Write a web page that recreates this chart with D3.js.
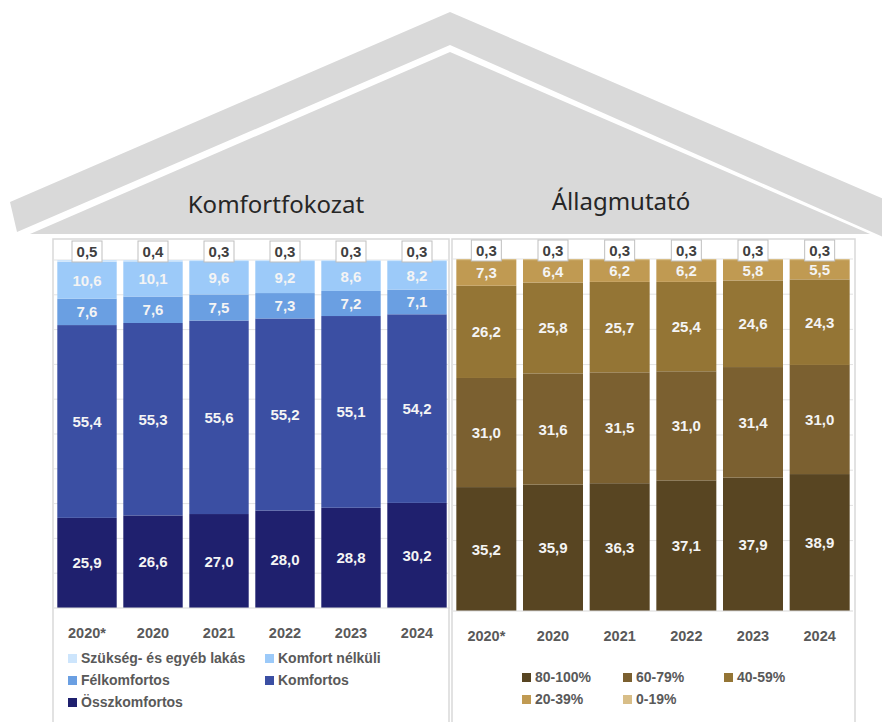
<!DOCTYPE html>
<html>
<head>
<meta charset="utf-8">
<script src="https://cdn.jsdelivr.net/npm/d3@7"></script>
<style>
  body { margin: 0; background: #fff; }
  svg text { font-family: "Liberation Sans", Arial, sans-serif; }
</style>
</head>
<body>
<div id="graphic"></div>
<script>
// Évek
let years = ["2020*", "2020", "2021", "2022", "2023", "2024"];

// Komfortfokozat (%), alulról felfelé
let komfortNames = ["Összkomfortos", "Komfortos", "Félkomfortos", "Komfort nélküli", "Szükség- és egyéb lakás"];
let osszkomfortos = [25.9, 26.6, 27.0, 28.0, 28.8, 30.2];
let komfortos = [55.4, 55.3, 55.6, 55.2, 55.1, 54.2];
let felkomfortos = [7.6, 7.6, 7.5, 7.3, 7.2, 7.1];
let komfortNelkuli = [10.6, 10.1, 9.6, 9.2, 8.6, 8.2];
let szukseg = [0.5, 0.4, 0.3, 0.3, 0.3, 0.3];
let komfortColors = ["#1f206e", "#3b4fa3", "#6a9fe2", "#9ccaf9", "#cde5fc"];

// Állagmutató (%), alulról felfelé
let allagNames = ["80-100%", "60-79%", "40-59%", "20-39%", "0-19%"];
let a80 = [35.2, 35.9, 36.3, 37.1, 37.9, 38.9];
let a60 = [31.0, 31.6, 31.5, 31.0, 31.4, 31.0];
let a40 = [26.2, 25.8, 25.7, 25.4, 24.6, 24.3];
let a20 = [7.3, 6.4, 6.2, 6.2, 5.8, 5.5];
let a0 = [0.3, 0.3, 0.3, 0.3, 0.3, 0.3];
let allagColors = ["#584522", "#7b6030", "#947535", "#c09a52", "#d8be88"];

let fmt = v => d3.format(".1f")(v).replace(".", ",");

let svg = d3.select("#graphic")
  .append("svg")
  .attr("width", 882)
  .attr("height", 722);

// Tető
let roof = svg.append("g");
roof.append("polygon")
  .attr("points", "450,12 900,206 890,240 450,45 17,232 10,202")
  .attr("fill", "#d9d9d9");
roof.append("polygon")
  .attr("points", "450,52 870,234 30,234")
  .attr("fill", "#d9d9d9");

roof.append("text")
  .attr("x", 276).attr("y", 213)
  .attr("text-anchor", "middle")
  .attr("fill", "#262626")
  .style("font-family", "'Noto Sans', sans-serif")
  .style("font-size", "24px")
  .text("Komfortfokozat");
roof.append("text")
  .attr("x", 621).attr("y", 210)
  .attr("text-anchor", "middle")
  .attr("fill", "#262626")
  .style("font-family", "'Noto Sans', sans-serif")
  .style("font-size", "24px")
  .text("Állagmutató");

// Egy panel kirajzolása
function drawPanel(opt) {
  let g = svg.append("g");

  g.append("rect")
    .attr("x", opt.box[0]).attr("y", opt.box[1])
    .attr("width", opt.box[2]).attr("height", opt.box[3])
    .attr("fill", "#fff")
    .attr("stroke", "#d9d9d9")
    .attr("stroke-width", 1.5);

  let x = d3.scaleBand()
    .domain(years)
    .range(opt.xRange)
    .paddingInner(0.1)
    .paddingOuter(0.05);

  let y = d3.scaleLinear()
    .domain([0, 100])
    .range(opt.yRange);

  // Rácsvonalak
  g.append("g")
    .selectAll("line")
    .data(d3.range(10, 101, 10))
    .enter()
    .append("line")
    .attr("x1", opt.xRange[0]).attr("x2", opt.xRange[1])
    .attr("y1", d => y(d)).attr("y2", d => y(d))
    .attr("stroke", "#e3e3e3");

  let rows = years.map((yr, i) => {
    let r = {year: yr};
    opt.series.forEach((s, k) => { r[k] = s[i]; });
    return r;
  });
  let stack = d3.stack().keys(d3.range(opt.series.length))(rows);

  let layers = g.selectAll(".layer")
    .data(stack)
    .enter()
    .append("g")
    .attr("class", "layer")
    .attr("fill", (d, k) => opt.colors[k]);

  layers.selectAll("rect")
    .data(d => d)
    .enter()
    .append("rect")
    .attr("x", d => x(d.data.year))
    .attr("width", x.bandwidth())
    .attr("y", d => y(d[1]))
    .attr("height", d => y(d[0]) - y(d[1]));

  // Értékcímkék (a legfelső réteg kivételével)
  let last = stack.length - 1;
  stack.slice(0, last).forEach(layer => {
    g.append("g")
      .selectAll("text")
      .data(layer)
      .enter()
      .append("text")
      .attr("x", d => x(d.data.year) + x.bandwidth() / 2)
      .attr("y", d => (y(d[0]) + y(d[1])) / 2 + 5.5)
      .attr("text-anchor", "middle")
      .attr("fill", "#f4f4f4")
      .style("font-size", "15px")
      .style("font-weight", "bold")
      .text(d => fmt(d[1] - d[0]));
  });

  // Legfelső érték dobozban
  let tops = g.append("g")
    .selectAll("g")
    .data(stack[last])
    .enter()
    .append("g")
    .attr("transform", d => `translate(${x(d.data.year) + x.bandwidth() / 2}, ${opt.boxY})`);
  tops.append("rect")
    .attr("x", -15).attr("y", 0)
    .attr("width", 30).attr("height", 21)
    .attr("fill", "#fff")
    .attr("stroke", "#bfbfbf");
  tops.append("text")
    .attr("y", 16)
    .attr("text-anchor", "middle")
    .attr("fill", "#404040")
    .style("font-size", "15px")
    .style("font-weight", "bold")
    .text(d => fmt(d[1] - d[0]));

  // X tengely
  g.append("line")
    .attr("x1", opt.xRange[0]).attr("x2", opt.xRange[1])
    .attr("y1", y(0)).attr("y2", y(0))
    .attr("stroke", "#d9d9d9");

  g.append("g")
    .selectAll("text")
    .data(years)
    .enter()
    .append("text")
    .attr("x", d => x(d) + x.bandwidth() / 2)
    .attr("y", opt.axisY)
    .attr("text-anchor", "middle")
    .attr("fill", "#595959")
    .style("font-size", "14.5px")
    .style("font-weight", "bold")
    .text(d => d);

  // Jelmagyarázat
  let leg = g.append("g")
    .selectAll("g")
    .data(opt.names)
    .enter()
    .append("g")
    .attr("transform", (d, i) => `translate(${opt.legend[i][0]}, ${opt.legend[i][1]})`);
  leg.append("rect")
    .attr("x", 0).attr("y", -9)
    .attr("width", 9).attr("height", 9)
    .attr("fill", (d, i) => opt.colors[i]);
  leg.append("text")
    .attr("x", 13).attr("y", 0)
    .attr("fill", "#595959")
    .style("font-size", "14px")
    .style("font-weight", "bold")
    .text(d => d);
}

drawPanel({
  box: [53, 239, 396, 495],
  xRange: [54, 450],
  yRange: [608, 260],
  boxY: 241,
  axisY: 638,
  series: [osszkomfortos, komfortos, felkomfortos, komfortNelkuli, szukseg],
  names: komfortNames,
  colors: komfortColors,
  legend: [[68, 707], [265, 685], [68, 685], [265, 663], [68, 663]]
});

drawPanel({
  box: [452, 239, 403, 495],
  xRange: [453, 853],
  yRange: [611, 259],
  boxY: 240,
  axisY: 641,
  series: [a80, a60, a40, a20, a0],
  names: allagNames,
  colors: allagColors,
  legend: [[522, 682], [623, 682], [724, 682], [522, 704], [623, 704]]
});
</script>
</body>
</html>
